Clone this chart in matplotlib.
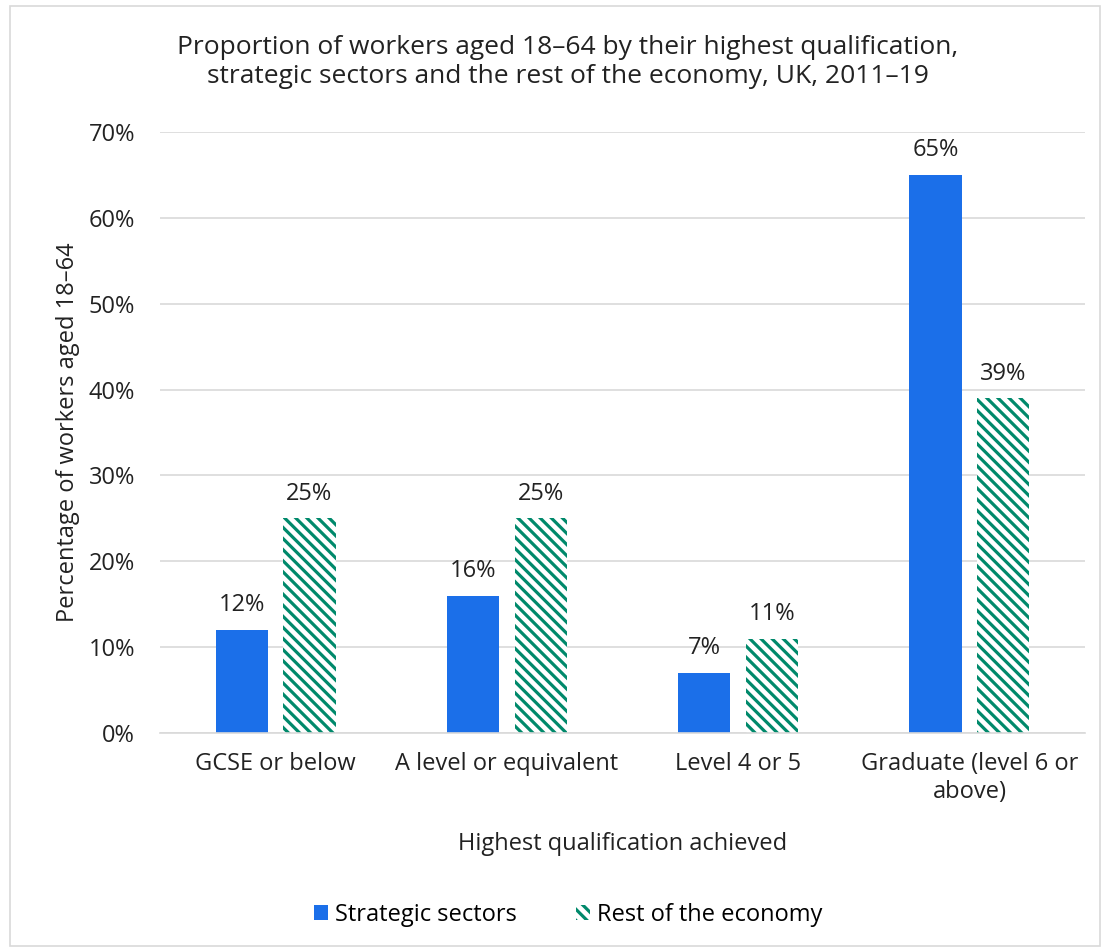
import matplotlib.pyplot as plt
import numpy as np
from matplotlib.patches import Rectangle
from matplotlib.ticker import FuncFormatter

# Data
categories = ["GCSE or below", "A level or equivalent", "Level 4 or 5",
              "Graduate (level 6 or\nabove)"]
strategic = [12, 16, 7, 65]
rest = [25, 25, 11, 39]

blue = "#1b6fe9"
green = "#00896b"
txt = "#222222"

plt.rcParams["font.family"] = ["Open Sans", "DejaVu Sans"]
plt.rcParams["hatch.linewidth"] = 2.3
plt.rcParams["hatch.color"] = green

fig = plt.figure(figsize=(11.05, 9.51), dpi=100)
ax = fig.add_axes([160 / 1105, 1 - 733 / 951, 925 / 1105, 601 / 951])

# figure border
fig.patches.append(Rectangle((10 / 1105, 5 / 951), 1090 / 1105, 940 / 951,
                             transform=fig.transFigure, fill=False,
                             edgecolor="#d9d9d9", linewidth=1.2))

x = np.arange(len(categories))
w = 0.226
off = 0.146
b1 = ax.bar(x - off, strategic, w, color=blue, label="Strategic sectors")
b2 = ax.bar(x + off, rest, w, facecolor="white", edgecolor=green,
            hatch="\\\\\\", linewidth=0, label="Rest of the economy")

for bars, vals in [(b1, strategic), (b2, rest)]:
    for b, v in zip(bars, vals):
        ax.annotate(f"{v}%", (b.get_x() + b.get_width() / 2, v),
                    xytext=(0, 9), textcoords="offset points",
                    ha="center", va="bottom", fontsize=17, color=txt)

ax.set_xlim(-0.5, 3.5)
ax.set_ylim(0, 70)
ax.set_yticks(range(0, 71, 10))
ax.yaxis.set_major_formatter(FuncFormatter(lambda v, p: f"{v:.0f}%"))
ax.set_xticks(x)
ax.set_xticklabels(categories)
ax.tick_params(length=0, labelsize=17, labelcolor=txt)
ax.tick_params(axis="y", pad=18)
ax.tick_params(axis="x", pad=14)
ax.grid(axis="y", color="#d9d9d9", linewidth=1.2)
ax.set_axisbelow(True)
for s in ["top", "right", "left"]:
    ax.spines[s].set_visible(False)
ax.spines["bottom"].set_color("#d9d9d9")
ax.spines["bottom"].set_linewidth(1.2)

ax.set_ylabel("Percentage of workers aged 18\u201364", fontsize=17,
              color=txt, labelpad=6)
ax.set_xlabel("Highest qualification achieved", fontsize=17,
              color=txt, labelpad=20)

fig.text(568 / 1105, 1 - 62 / 951,
         "Proportion of workers aged 18\u201364 by their highest qualification,\n"
         "strategic sectors and the rest of the economy, UK, 2011\u201319",
         ha="center", va="center", fontsize=19, color=txt,
         linespacing=1.2)

fig.legend(handles=[b1, b2], loc="center", bbox_to_anchor=(568 / 1105, 1 - 915 / 951),
           ncol=2, frameon=False, fontsize=17, handlelength=0.6,
           handleheight=0.6, handletextpad=0.3, columnspacing=2.5)

fig.savefig("out.png", dpi=100)
